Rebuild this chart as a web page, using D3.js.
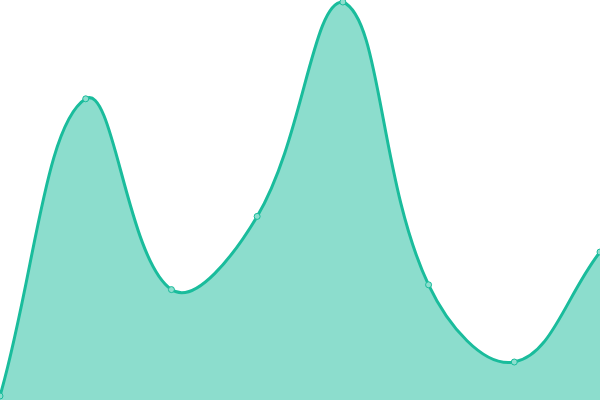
<!DOCTYPE html>
<html>
<head>
<meta charset="utf-8">
<script src="https://cdn.jsdelivr.net/npm/d3@7"></script>
<style>
  html, body { margin: 0; padding: 0; background: #fff; }
  svg { display: block; }
</style>
</head>
<body>
<div id="chart"></div>
<script>
// data
const categories = ['1', '2', '3', '4', '5', '6', '7', '8'];
const values = [1, 75.3, 27.6, 45.9, 99.5, 28.8, 9.5, 37];

const width = 600, height = 400;
const lineColor = '#1abc9c';

const x = d3.scalePoint().domain(categories).range([0, width]);
const y = d3.scaleLinear().domain([0, 100]).range([height, 0]);

// spline like Chart.js (tension 0.4, weighted by segment length, control points kept in the chart area)
function splineCurve(context) {
  let pts = [];
  return {
    lineStart() { pts = []; },
    point(px, py) { pts.push([+px, +py]); },
    lineEnd() {
      const n = pts.length;
      if (!n) return;
      const t = 0.4;
      const cps = pts.map((p, i) => {
        const prev = pts[Math.max(0, i - 1)];
        const next = pts[Math.min(n - 1, i + 1)];
        const d01 = Math.hypot(p[0] - prev[0], p[1] - prev[1]);
        const d12 = Math.hypot(next[0] - p[0], next[1] - p[1]);
        let s01 = d01 / (d01 + d12), s12 = d12 / (d01 + d12);
        if (isNaN(s01)) s01 = 0;
        if (isNaN(s12)) s12 = 0;
        const fa = t * s01, fb = t * s12;
        const clampX = v => Math.max(0, Math.min(width, v));
        const clampY = v => Math.max(0, Math.min(height, v));
        return {
          prev: [clampX(p[0] - fa * (next[0] - prev[0])), clampY(p[1] - fa * (next[1] - prev[1]))],
          next: [clampX(p[0] + fb * (next[0] - prev[0])), clampY(p[1] + fb * (next[1] - prev[1]))]
        };
      });
      context.moveTo(pts[0][0], pts[0][1]);
      for (let i = 1; i < n; i++) {
        context.bezierCurveTo(cps[i - 1].next[0], cps[i - 1].next[1],
          cps[i].prev[0], cps[i].prev[1], pts[i][0], pts[i][1]);
      }
    },
    areaStart() {},
    areaEnd() {}
  };
}

const line = d3.line()
  .x((d, i) => x(categories[i]))
  .y(d => y(d))
  .curve(splineCurve);

const svg = d3.select('#chart').append('svg')
  .attr('width', width)
  .attr('height', height);

const linePath = line(values);

svg.append('path')
  .attr('d', linePath + 'L' + x(categories[categories.length - 1]) + ',' + y(0) + 'L' + x(categories[0]) + ',' + y(0) + 'Z')
  .attr('fill', lineColor)
  .attr('fill-opacity', 0.5)
  .attr('stroke', 'none');

svg.append('path')
  .attr('d', linePath)
  .attr('fill', 'none')
  .attr('stroke', lineColor)
  .attr('stroke-width', 3);

svg.append('g').selectAll('circle')
  .data(values)
  .enter().append('circle')
  .attr('cx', (d, i) => x(categories[i]))
  .attr('cy', d => y(d))
  .attr('r', 3)
  .attr('fill', '#8ddece')
  .attr('stroke', lineColor)
  .attr('stroke-width', 1);
</script>
</body>
</html>
